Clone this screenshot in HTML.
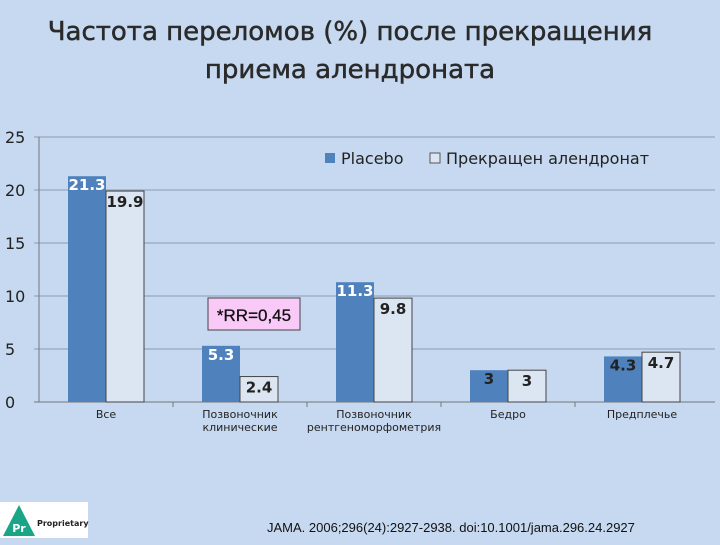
<!DOCTYPE html>
<html><head><meta charset="utf-8"><style>
body{margin:0;width:720px;height:540px;background:#c6d9f0;overflow:hidden;font-family:"Liberation Sans","DejaVu Sans",sans-serif;}
</style></head><body>
<svg width="720" height="540" id="svg" font-family="'DejaVu Sans','Liberation Sans',sans-serif">
<rect width="720" height="540" fill="#c6d9f0"/>
<text x="350" y="40" text-anchor="middle" font-size="26" fill="#2a2a2a" stroke="#2a2a2a" stroke-width="0.5">Частота переломов (%) после прекращения</text>
<text x="350" y="78" text-anchor="middle" font-size="26" fill="#2a2a2a" stroke="#2a2a2a" stroke-width="0.5">приема алендроната</text>
<g id="plot"></g>
<rect x="325" y="153" width="10" height="10" fill="#4f81bd"/>
<text x="341" y="164" font-size="16" fill="#222">Placebo</text>
<rect x="430" y="153" width="10" height="10" fill="#dce6f2" stroke="#555"/>
<text x="446" y="164" font-size="16" fill="#222">Прекращен алендронат</text>
<rect x="208" y="298" width="92" height="32" fill="#f9caf8" stroke="#444"/>
<text x="254" y="321" text-anchor="middle" font-size="17" fill="#111" stroke="#111" stroke-width="0.3" font-family="'Liberation Sans',sans-serif">*RR=0,45</text>
<g>
<rect x="0" y="502" width="88" height="36" fill="#fff"/>
<polygon points="19,505 3,536 35,536" fill="#1aa587"/>
<text x="19" y="532" text-anchor="middle" font-size="11" font-weight="bold" fill="#fff">Pr</text>
<text x="37" y="526" font-size="8" font-weight="bold" fill="#222">Proprietary</text>
</g>
<text x="267" y="532" font-size="13" fill="#111" font-family="'Liberation Sans',sans-serif">JAMA. 2006;296(24):2927-2938. doi:10.1001/jama.296.24.2927</text>
</svg>
<script>
const categories=["Все","Позвоночник|клинические","Позвоночник|рентгеноморфометрия","Бедро","Предплечье"];
const placebo=[21.3,5.3,11.3,3,4.3];
const stopped=[19.9,2.4,9.8,3,4.7];
const yTicks=[0,5,10,15,20,25];
const NS="http://www.w3.org/2000/svg";
const g=document.getElementById('plot');
const x0=39,x1=715,yb=402,yt=137,ymax=25,cw=134;
const y=v=>yb-(v/ymax)*(yb-yt);
const cx=i=>x0+cw*i+cw/2;
function mk(t,a,p){const e=document.createElementNS(NS,t);for(const k in a)e.setAttribute(k,a[k]);(p||g).appendChild(e);return e;}
yTicks.forEach(t=>{
 const l=mk('line',{x1:x0-5,x2:x1,y1:y(t),y2:y(t),stroke:t===0?'#777':'#8a9bb0','stroke-width':1});
 
 
 const tx=mk('text',{x:5,y:y(t)+6,'font-size':16,fill:'#222'});tx.textContent=t;
 
 
});
mk('line',{x1:x0,x2:x0,y1:yt,y2:yb,stroke:'#777'});
categories.forEach((c,i)=>{
 const c0=cx(i);
 const b1=mk('rect',{x:c0-38,y:y(placebo[i]),width:38,height:yb-y(placebo[i]),fill:'#4f81bd'});
 
 
 const b2=mk('rect',{x:c0,y:y(stopped[i]),width:38,height:yb-y(stopped[i]),fill:'#dce6f2',stroke:'#444','stroke-width':1});
 
 
 const big=placebo[i]>5;
 const l1=mk('text',{x:c0-19,y:y(placebo[i])+14,'text-anchor':'middle','font-size':15,'font-weight':'bold',fill:big?'#fff':'#222'});
 l1.textContent=placebo[i];
 
 
 const l2=mk('text',{x:c0+19,y:y(stopped[i])+16,'text-anchor':'middle','font-size':15,'font-weight':'bold',fill:'#222'});
 l2.textContent=stopped[i];
 
 
 c.split('|').forEach((s,j)=>{
  const t=mk('text',{x:c0,y:418+j*13,'text-anchor':'middle','font-size':11,fill:'#222'});t.textContent=s;
  
  
 });
 if(i>0){mk('line',{x1:x0+cw*i,x2:x0+cw*i,y1:yb,y2:yb+5,stroke:'#777'});}
});
</script>
</body></html>
